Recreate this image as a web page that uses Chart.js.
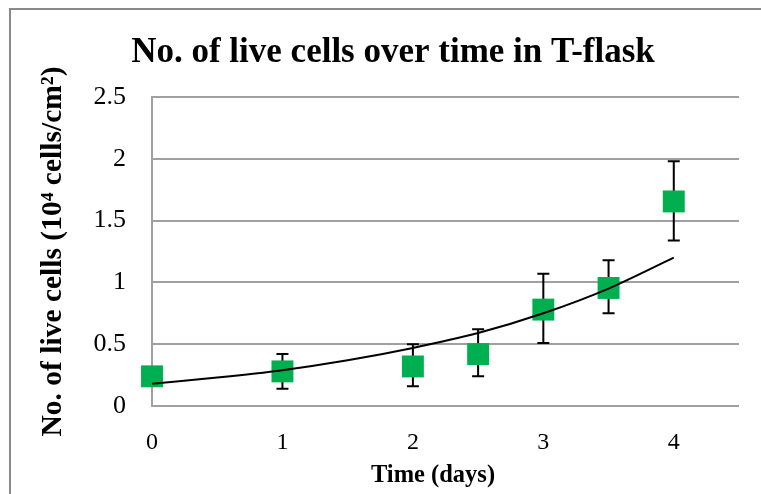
<!DOCTYPE html>
<html><head><meta charset="utf-8">
<script src="https://cdn.jsdelivr.net/npm/chart.js@4/dist/chart.umd.min.js"></script>
<style>html,body{margin:0;padding:0;background:#fff}</style>
</head><body>
<canvas id="c" width="761" height="494"></canvas>
<script>
const timeDays = [0, 1, 2, 2.5, 3, 3.5, 4];
const liveCells = [0.24, 0.28, 0.32, 0.42, 0.78, 0.955, 1.655];
const errLow = [0.24, 0.14, 0.16, 0.24, 0.51, 0.75, 1.34];
const errHigh = [0.24, 0.42, 0.50, 0.62, 1.07, 1.18, 1.98];
const trendX = [0, 0.5, 1, 1.5, 2, 2.5, 3, 3.5, 4];
const trendY = [0.18, 0.23, 0.29, 0.37, 0.47, 0.59, 0.75, 0.95, 1.20];
const yTicks = [0, 0.5, 1, 1.5, 2, 2.5];
const xTicks = [0, 1, 2, 3, 4];
const xTitle = 'Time (days)';

const SERIF = '"Liberation Serif", "Times New Roman", serif';

const framePlugin = {
  id: 'frame',
  beforeDraw(chart) {
    const ctx = chart.ctx;
    ctx.save();
    ctx.fillStyle = '#fff';
    ctx.fillRect(0, 0, chart.width, chart.height);
    ctx.strokeStyle = '#8a8a8a';
    ctx.lineWidth = 2;
    ctx.strokeRect(10, 9, 900, 900);
    ctx.restore();
  },
  afterDraw(chart) {
    const ctx = chart.ctx;
    ctx.save();
    ctx.fillStyle = '#000';
    ctx.font = 'bold 24.5px ' + SERIF;
    ctx.textAlign = 'center';
    ctx.textBaseline = 'alphabetic';
    ctx.fillText(xTitle, 433, 482);
    ctx.restore();
  }
};

const errorBarPlugin = {
  id: 'errbars',
  beforeDatasetsDraw(chart) {
    const ctx = chart.ctx;
    const xs = chart.scales.x, ys = chart.scales.y;
    ctx.save();
    ctx.strokeStyle = '#000';
    ctx.lineWidth = 2;
    for (let i = 0; i < timeDays.length; i++) {
      if (errHigh[i] === errLow[i]) continue;
      const px = xs.getPixelForValue(timeDays[i]);
      const y1 = ys.getPixelForValue(errLow[i]);
      const y2 = ys.getPixelForValue(errHigh[i]);
      ctx.beginPath();
      ctx.moveTo(px, y1); ctx.lineTo(px, y2);
      ctx.moveTo(px - 6, y1); ctx.lineTo(px + 6, y1);
      ctx.moveTo(px - 6, y2); ctx.lineTo(px + 6, y2);
      ctx.stroke();
    }
    ctx.restore();
  }
};

new Chart(document.getElementById('c'), {
  type: 'scatter',
  data: {
    datasets: [
      {
        label: 'Trend',
        type: 'line',
        data: trendX.map((x, i) => ({x: x, y: trendY[i]})),
        borderColor: '#000',
        borderWidth: 2,
        pointRadius: 0,
        fill: false,
        cubicInterpolationMode: 'monotone',
        order: 0
      },
      {
        label: 'Live cells',
        data: timeDays.map((x, i) => ({x: x, y: liveCells[i]})),
        backgroundColor: '#00B050',
        borderColor: '#00B050',
        borderWidth: 0,
        pointStyle: 'rect',
        pointRadius: 15.5,
        pointHoverRadius: 15.5,
        clip: false,
        order: 1
      }
    ]
  },
  options: {
    responsive: false,
    animation: false,
    events: [],
    layout: { padding: { left: 47, right: 22, top: 0, bottom: 0 } },
    plugins: {
      legend: { display: false },
      tooltip: { enabled: false },
      title: {
        display: true,
        text: 'No. of live cells over time in T-flask',
        color: '#000',
        font: { family: SERIF, size: 35, weight: 'bold', lineHeight: 1.2 },
        padding: { top: 32, bottom: 23 }
      }
    },
    scales: {
      x: {
        type: 'linear',
        min: 0, max: 4.5,
        afterBuildTicks: s => { s.ticks = xTicks.map(v => ({value: v})); },
        afterFit: s => { s.height = 88; },
        grid: { display: false, drawTicks: false },
        border: { display: false },
        ticks: { color: '#000', padding: 22, font: { family: SERIF, size: 24 }, callback: v => String(v) },
        title: { display: false }
      },
      y: {
        type: 'linear',
        min: 0, max: 2.5,
        afterBuildTicks: s => { s.ticks = yTicks.map(v => ({value: v})); },
        afterFit: s => { s.width = 105; },
        grid: { color: '#a0a0a0', lineWidth: 2, drawTicks: false },
        border: { display: true, color: '#a0a0a0', width: 2 },
        ticks: { color: '#000', padding: 26, font: { family: SERIF, size: 26 }, callback: v => String(v) },
        title: {
          display: true, text: 'No. of live cells (10\u2074 cells/cm\u00B2)', color: '#000',
          font: { family: SERIF, size: 29.5, weight: 'bold' },
          padding: { top: -11, bottom: 0 }
        }
      }
    }
  },
  plugins: [framePlugin, errorBarPlugin]
});
</script>
</body></html>
